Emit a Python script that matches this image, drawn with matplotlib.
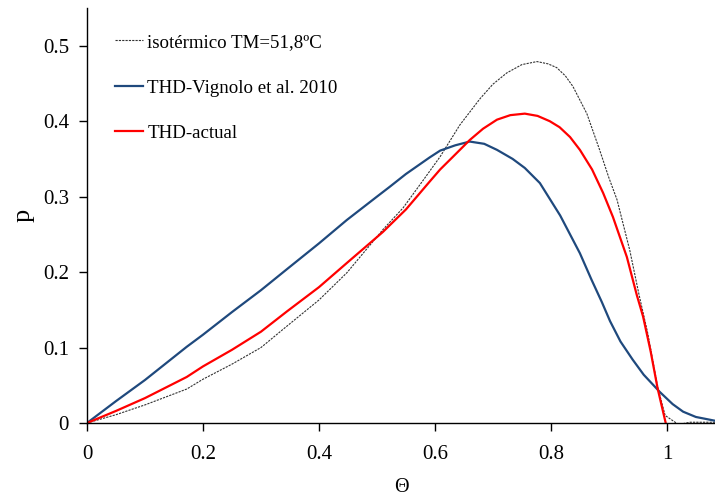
import numpy as np
import matplotlib
matplotlib.use('Agg')
from matplotlib import pyplot as plt

plt.rcParams['font.family'] = ['Liberation Serif', 'DejaVu Serif']

# isotermico TM=51,8 C
x_iso = [0, 0.05, 0.1, 0.172, 0.2, 0.25, 0.3, 0.341, 0.4, 0.448, 0.51, 0.545, 0.58, 0.609,
         0.643, 0.678, 0.70, 0.724, 0.75, 0.776, 0.795, 0.81, 0.825, 0.838, 0.85, 0.862,
         0.884, 0.90, 0.914, 0.936, 0.952, 0.967, 0.984, 0.997, 1.02, 1.04, 1.083]
y_iso = [0, 0.011, 0.024, 0.045, 0.058, 0.078, 0.100, 0.126, 0.163, 0.199, 0.256, 0.285, 0.322, 0.353,
         0.395, 0.430, 0.449, 0.464, 0.475, 0.479, 0.476, 0.471, 0.460, 0.446, 0.428, 0.410,
         0.362, 0.325, 0.296, 0.229, 0.170, 0.119, 0.048, 0.010, -0.002, 0.001, 0.001]

# THD-Vignolo et al. 2010
x_vig = [0, 0.05, 0.1, 0.172, 0.2, 0.25, 0.3, 0.345, 0.4, 0.448, 0.5, 0.522, 0.55, 0.591,
         0.609, 0.635, 0.66, 0.685, 0.707, 0.734, 0.755, 0.781, 0.816, 0.85, 0.87, 0.888,
         0.902, 0.92, 0.941, 0.96, 0.988, 1.01, 1.028, 1.05, 1.083]
y_vig = [0, 0.029, 0.057, 0.101, 0.117, 0.147, 0.176, 0.204, 0.238, 0.269, 0.300, 0.313, 0.330, 0.352,
         0.361, 0.368, 0.373, 0.370, 0.362, 0.350, 0.338, 0.318, 0.275, 0.225, 0.190, 0.160,
         0.135, 0.108, 0.084, 0.064, 0.041, 0.025, 0.015, 0.008, 0.003]

# THD-actual
x_act = [0, 0.05, 0.1, 0.172, 0.2, 0.25, 0.3, 0.345, 0.4, 0.448, 0.51, 0.55, 0.591, 0.609,
         0.63, 0.66, 0.683, 0.707, 0.73, 0.755, 0.777, 0.798, 0.815, 0.833, 0.85, 0.871,
         0.89, 0.907, 0.931, 0.948, 0.959, 0.972, 0.984, 0.998]
y_act = [0, 0.016, 0.033, 0.061, 0.075, 0.097, 0.121, 0.148, 0.180, 0.212, 0.253, 0.283, 0.320, 0.336,
         0.352, 0.375, 0.390, 0.402, 0.408, 0.410, 0.407, 0.400, 0.392, 0.379, 0.362, 0.336,
         0.305, 0.273, 0.220, 0.170, 0.141, 0.095, 0.046, 0.0]

xticks = [0, 0.2, 0.4, 0.6, 0.8, 1]
xtick_labels = ['0', '0.2', '0.4', '0.6', '0.8', '1']
yticks = [0, 0.1, 0.2, 0.3, 0.4, 0.5]
ytick_labels = ['0', '0.1', '0.2', '0.3', '0.4', '0.5']

fig = plt.figure(figsize=(7.15, 4.97), dpi=100)
ax = fig.add_axes([87 / 715, 74 / 497, 628 / 715, 415 / 497])

ax.plot(x_iso, y_iso, color='#333333', lw=0.8, ls=(0, (2, 1)), label='isotérmico TM=51,8ºC')
ax.plot(x_vig, y_vig, color='#1F497D', lw=1.6, label='THD-Vignolo et al. 2010')
ax.plot(x_act, y_act, color='#FF0000', lw=1.6, label='THD-actual')

ax.set_xlim(0, 1.083)
ax.set_ylim(0, 0.55)
ax.set_xticks(xticks)
ax.set_xticklabels(xtick_labels)
ax.set_yticks(yticks)
ax.set_yticklabels(ytick_labels)
ax.tick_params(axis='x', direction='out', length=6, width=1, labelsize=15, pad=10)
ax.tick_params(axis='y', direction='out', length=6, width=1, labelsize=15, pad=7)

ax.spines['top'].set_visible(False)
ax.spines['right'].set_visible(False)
ax.spines['left'].set_linewidth(1)
ax.spines['bottom'].set_linewidth(1)

ax.set_xlabel('Θ', fontsize=14.5, labelpad=10)
ax.set_ylabel('p', fontsize=19, labelpad=6)

ax.legend(loc='upper left', bbox_to_anchor=(0.044, 0.938), frameon=False, fontsize=13.6,
          handlelength=1.48, handletextpad=0.26, labelspacing=1.5, borderpad=0, borderaxespad=0)

fig.savefig('out.png', dpi=100)
